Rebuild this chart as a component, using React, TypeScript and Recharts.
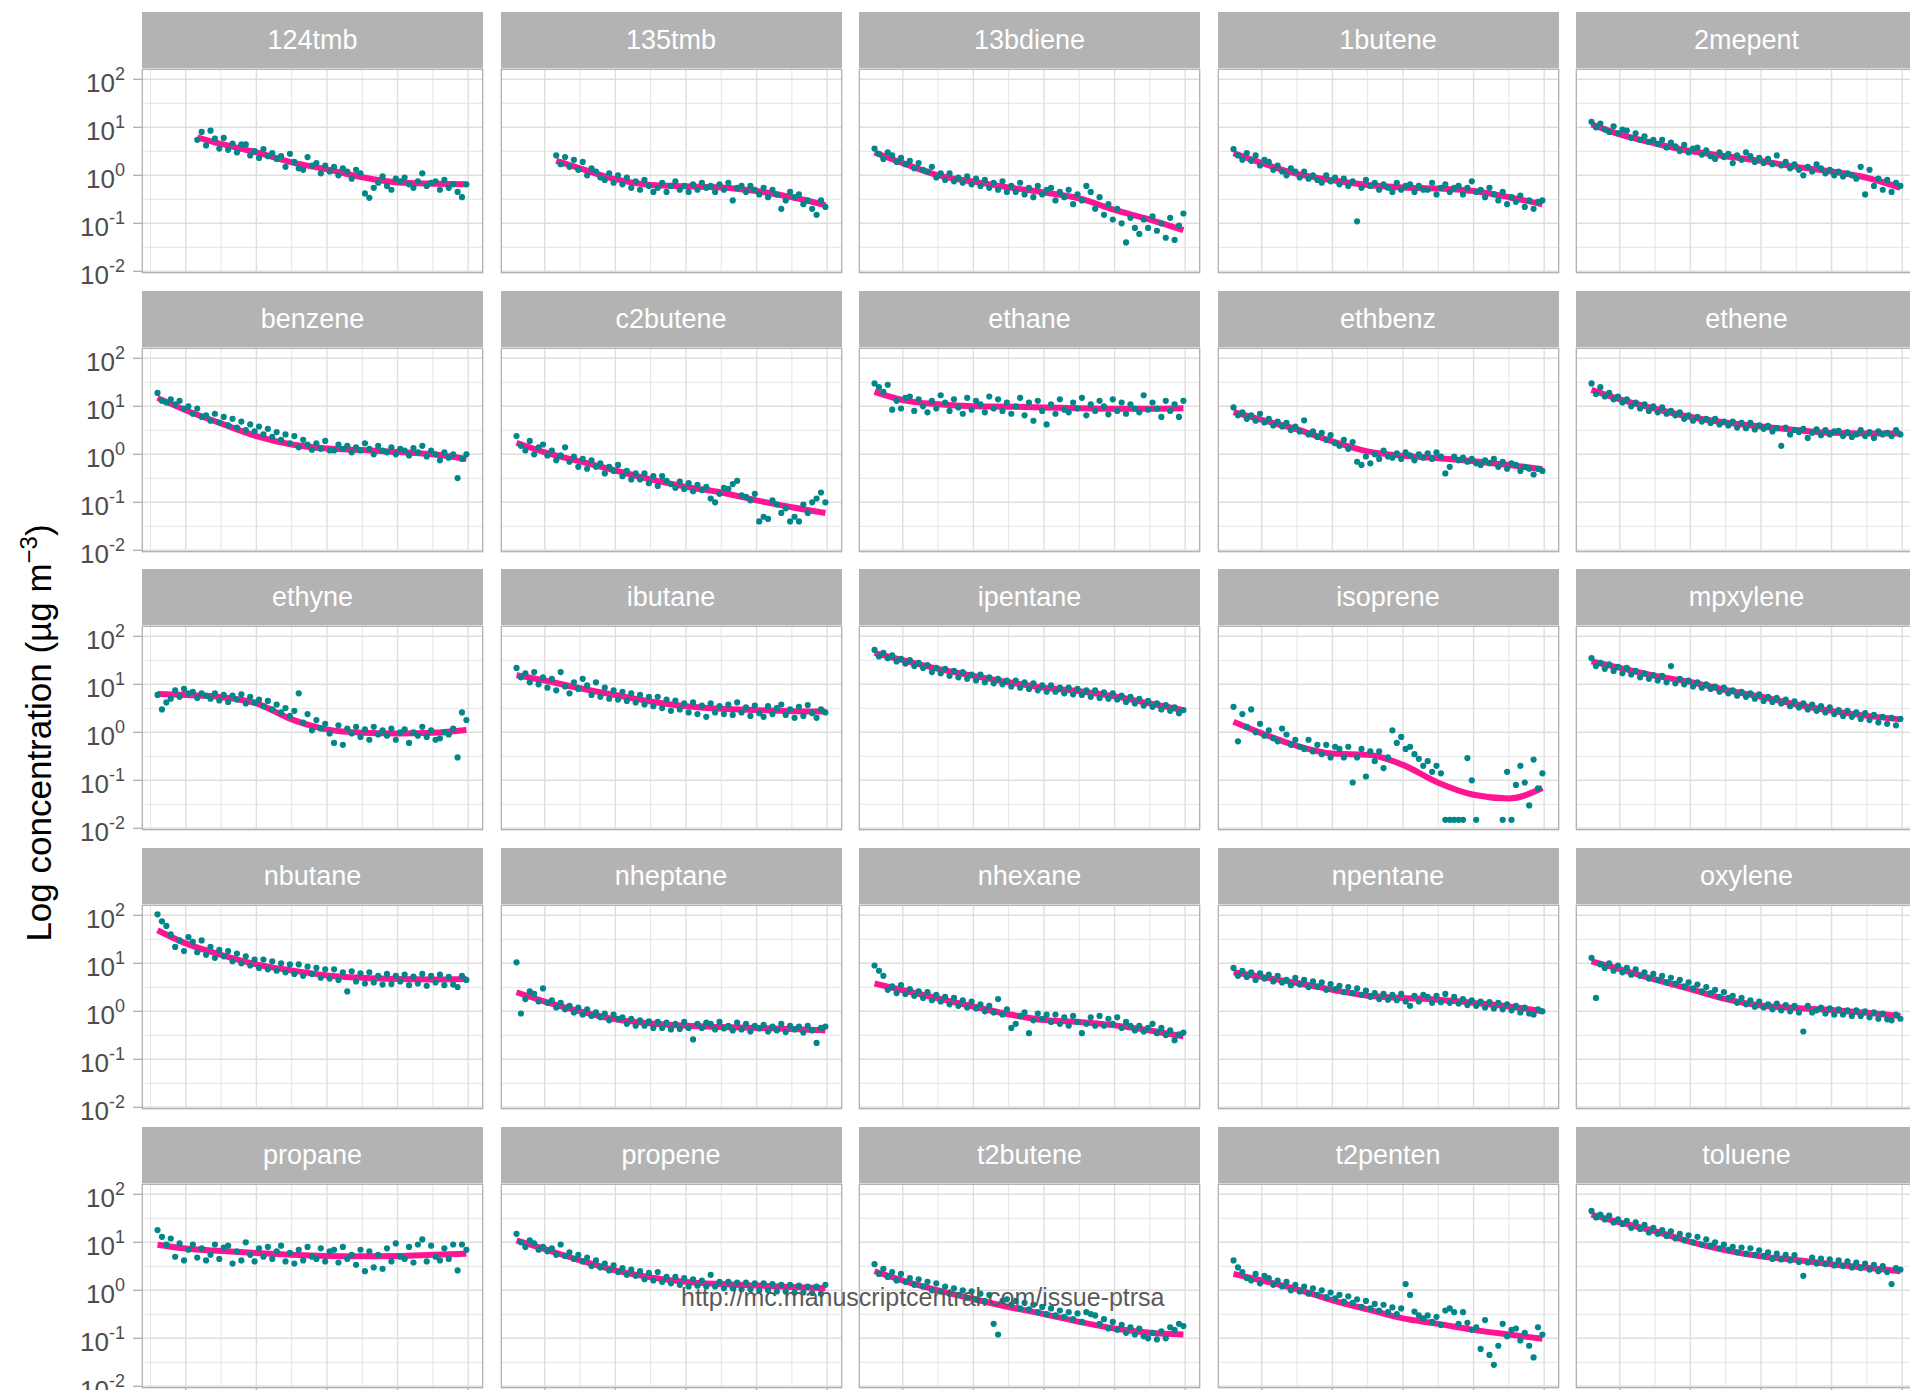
import { CartesianGrid, ComposedChart, Line, Scatter, XAxis, YAxis } from "recharts";

// quarterly sampling times (decimal year)
const QUARTERS = [
  1994.4, 1994.65, 1994.9, 1995.15, 1995.4, 1995.65, 1995.9, 1996.15,
  1996.4, 1996.65, 1996.9, 1997.15, 1997.4, 1997.65, 1997.9, 1998.15,
  1998.4, 1998.65, 1998.9, 1999.15, 1999.4, 1999.65, 1999.9, 2000.15,
  2000.4, 2000.65, 2000.9, 2001.15, 2001.4, 2001.65, 2001.9, 2002.15,
  2002.4, 2002.65, 2002.9, 2003.15, 2003.4, 2003.65, 2003.9, 2004.15,
  2004.4, 2004.65, 2004.9, 2005.15, 2005.4, 2005.65, 2005.9, 2006.15,
  2006.4, 2006.65, 2006.9, 2007.15, 2007.4, 2007.65, 2007.9, 2008.15,
  2008.4, 2008.65, 2008.9, 2009.15, 2009.4, 2009.65, 2009.9, 2010.15,
  2010.4, 2010.65, 2010.9, 2011.15, 2011.4, 2011.65, 2011.9,
];
const FIT_YEARS = [1994.4, 1996, 1998, 2000, 2002, 2004, 2006, 2008, 2010, 2011.9];
const FIT_YEARS_TMB = [1996.65, 1998, 2000, 2002, 2004, 2006, 2008, 2010, 2011.9];

// concentrations, ug m-3 (null = no sample)
const tmb124 = [
  null, null, null, null, null, null, null, null,
  null, 5.5, 8.0, 4.2, 8.5, 5.8, 3.6, 6.0,
  3.4, 4.6, 3.0, 4.4, 4.4, 2.6, 3.2, 2.3,
  3.5, 2.5, 2.9, 2.2, 2.5, 1.5, 2.8, 1.9,
  1.4, 1.3, 2.4, 1.6, 1.8, 1.1, 1.6, 1.2,
  1.5, 1.0, 1.4, 1.2, 0.85, 1.3, 1.1, 0.42,
  0.34, 0.55, 0.7, 0.95, 0.6, 0.5, 0.85, 0.75,
  0.9, 0.65, 0.55, 0.75, 1.1, 0.6, 0.7, 0.75,
  0.5, 0.8, 0.55, 0.65, 0.45, 0.35, 0.65,
];
const tmb124Fit = [6.2, 4.5, 3.0, 1.86, 1.33, 0.91, 0.71, 0.67, 0.65];

const tmb135 = [
  null, null, null, null, null, null, null, null,
  null, 2.6, 1.7, 2.4, 1.5, 2.1, 1.3, 1.9,
  1.0, 1.4, 1.2, 0.9, 0.8, 1.1, 0.7, 1.0,
  0.65, 0.9, 0.55, 0.75, 0.5, 0.8, 0.6, 0.45,
  0.55, 0.7, 0.45, 0.6, 0.75, 0.5, 0.6, 0.45,
  0.65, 0.5, 0.7, 0.55, 0.6, 0.45, 0.65, 0.5,
  0.7, 0.3, 0.55, 0.6, 0.45, 0.6, 0.5, 0.4,
  0.55, 0.35, 0.5, 0.4, 0.2, 0.3, 0.45, 0.35,
  0.4, 0.25, 0.3, 0.2, 0.15, 0.3, 0.22,
];
const tmb135Fit = [2.0, 1.4, 0.83, 0.63, 0.59, 0.56, 0.47, 0.35, 0.24];

const bdiene13 = [
  3.6, 2.8, 2.2, 3.0, 2.6, 1.9, 2.3, 1.7,
  2.0, 1.4, 1.8, 1.3, 1.2, 1.5, 0.9, 1.1,
  0.8, 1.1, 0.75, 0.9, 0.7, 0.95, 0.65, 0.85,
  0.6, 0.8, 0.55, 0.7, 0.5, 0.75, 0.45, 0.6,
  0.45, 0.7, 0.4, 0.55, 0.35, 0.6, 0.4, 0.5,
  0.55, 0.3, 0.45, 0.35, 0.5, 0.25, 0.4, 0.3,
  0.6, 0.45, 0.2, 0.35, 0.15, 0.25, 0.12, 0.2,
  0.1, 0.04, 0.13, 0.08, 0.06, 0.12, 0.08, 0.14,
  0.07, 0.1, 0.05, 0.13, 0.045, 0.09, 0.16,
];
const bdiene13Fit = [3.0, 1.8, 1.0, 0.74, 0.56, 0.44, 0.33, 0.19, 0.12, 0.072];

const butene1 = [
  3.5, 2.6, 2.1, 2.9, 2.0, 2.6, 1.6, 2.1,
  1.9, 1.3, 1.6, 1.2, 1.0, 1.4, 1.2, 0.9,
  1.2, 0.85, 1.0, 0.8, 0.7, 1.0, 0.75, 0.9,
  0.65, 0.85, 0.6, 0.75, 0.11, 0.55, 0.8, 0.6,
  0.7, 0.5, 0.65, 0.55, 0.45, 0.7, 0.5, 0.6,
  0.65, 0.45, 0.6, 0.5, 0.5, 0.7, 0.4, 0.55,
  0.65, 0.45, 0.55, 0.6, 0.4, 0.55, 0.75, 0.45,
  0.5, 0.35, 0.55, 0.4, 0.3, 0.45, 0.25, 0.35,
  0.28, 0.38, 0.22, 0.3, 0.2, 0.28, 0.3,
];
const butene1Fit = [2.9, 1.8, 1.07, 0.79, 0.63, 0.56, 0.53, 0.47, 0.35, 0.25];

const mepent2 = [
  13, 10, 12, 9, 8, 10.5, 7.5, 9,
  8.5, 6, 7.5, 5.5, 6.5, 5, 5.5, 4.5,
  5.5, 3.8, 4.8, 4.0, 3.2, 4.3, 3.0, 3.6,
  3.8, 2.7, 3.3, 2.5, 2.2, 3.0, 2.4, 2.8,
  1.8, 2.6, 2.1, 3.0, 2.5, 1.9, 2.3, 1.8,
  2.2, 1.7, 2.6, 1.6, 1.9, 1.4, 1.7, 1.3,
  1.0, 1.5, 1.2, 1.7, 1.4, 1.1, 1.3, 1.0,
  1.2, 0.95, 1.1, 1.0, 0.85, 1.5, 0.4, 1.3,
  0.6, 0.85, 0.5, 0.8, 0.45, 0.7, 0.6,
];
const mepent2Fit = [11.5, 7.1, 4.6, 3.2, 2.5, 2.0, 1.5, 1.2, 0.89, 0.55];

const benzene = [
  19, 13, 12, 14, 11, 13, 9, 10,
  7, 9, 6, 6.5, 5, 7, 4.6, 6,
  4, 5.5, 3.6, 4.8, 3.2, 4.2, 3.0, 3.8,
  2.6, 3.4, 2.3, 2.9, 2.0, 2.6, 1.7, 2.4,
  1.4, 2.0, 1.6, 1.25, 1.7, 1.3, 1.9, 1.2,
  1.2, 1.6, 1.3, 1.5, 1.1, 1.4, 1.2, 1.7,
  1.3, 1.0, 1.5, 1.2, 1.1, 1.4, 1.0, 1.3,
  1.2, 0.95, 1.35, 1.1, 1.5, 0.9, 1.2, 1.0,
  0.75, 1.1, 0.85, 1.0, 0.32, 0.8, 1.0,
];
const benzeneFit = [15, 8.3, 4.4, 2.4, 1.6, 1.32, 1.23, 1.12, 1.0, 0.8];

const c2butene = [
  2.4, 1.5, 1.2, 1.9, 1.0, 1.4, 1.6, 0.95,
  1.2, 0.75, 0.95, 1.4, 0.7, 0.9, 0.55, 0.8,
  0.5, 0.75, 0.55, 0.65, 0.4, 0.55, 0.45, 0.6,
  0.35, 0.45, 0.3, 0.4, 0.3, 0.4, 0.25, 0.35,
  0.22, 0.35, 0.28, 0.24, 0.2, 0.27, 0.19, 0.25,
  0.17, 0.23, 0.18, 0.21, 0.12, 0.1, 0.15, 0.2,
  0.19, 0.24, 0.28, 0.14, 0.13, 0.11, 0.15, 0.04,
  0.05, 0.045, 0.11, 0.09, 0.06, 0.075, 0.04, 0.05,
  0.04, 0.09, 0.06, 0.1, 0.12, 0.16, 0.1,
];
const c2buteneFit = [1.74, 1.1, 0.71, 0.46, 0.3, 0.21, 0.16, 0.11, 0.079, 0.06];

const ethane = [
  30, 25, 20, 28, 8.5, 13, 9, 15,
  16, 8, 14, 10, 7.5, 13, 9, 17,
  12, 8, 14, 9.5, 7, 15, 8.5, 13,
  11, 7.5, 16, 9, 14, 8, 12, 7,
  10, 15, 6.5, 12, 5, 13, 8, 4.2,
  11, 7, 14, 8.5, 7.5, 12, 9, 15,
  6.5, 11, 8, 13, 10, 6.8, 14, 8,
  12, 7, 11, 9, 7.5, 17, 8.5, 12,
  9, 6, 13, 8, 11, 6, 13,
];
const ethaneFit = [20, 13.5, 11, 10, 9.8, 9.5, 9.1, 8.9, 8.9, 9.1];

const ethbenz = [
  9.5, 6.5, 7.5, 5.5, 6.5, 5, 7, 4.6,
  5.5, 4, 4.8, 3.8, 4.5, 3.2, 3.8, 3.0,
  5.1, 2.6, 3.0, 2.3, 2.8, 2.0, 2.5, 1.7,
  1.5, 2.0, 1.3, 1.8, 0.7, 0.6, 0.9, 0.65,
  1.0, 0.8, 1.2, 0.9, 0.85, 1.05, 0.8, 1.1,
  0.95, 0.75, 1.0, 0.85, 1.05, 0.8, 1.1, 0.9,
  0.4, 0.55, 0.9, 0.75, 0.85, 0.7, 0.8, 0.65,
  0.6, 0.75, 0.65, 0.8, 0.55, 0.7, 0.5, 0.65,
  0.6, 0.45, 0.55, 0.5, 0.38, 0.5, 0.45,
];
const ethbenzFit = [7.6, 5.2, 3.3, 1.86, 1.15, 0.93, 0.83, 0.72, 0.6, 0.49];

const ethene = [
  30, 18, 25, 16, 19, 14, 16, 12,
  14, 10, 12, 9, 11, 8, 10, 7.5,
  9.5, 7, 8, 6.5, 7.5, 5.5, 6.5, 5,
  6, 4.8, 5.5, 4.5, 5.5, 4.2, 4.8, 4.0,
  4.8, 3.6, 4.5, 3.5, 4.5, 3.3, 4.0, 3.4,
  3.9, 3.0, 3.5, 1.5, 3.6, 2.6, 3.2, 2.9,
  3.4, 2.2, 2.8, 3.3, 2.5, 3.2, 2.6, 3.0,
  3.1, 2.4, 2.9, 2.3, 2.6, 3.2, 2.4, 2.9,
  2.2, 3.0, 2.6, 2.8, 2.4, 3.2, 2.6,
];
const etheneFit = [22, 14, 8.9, 6.0, 4.6, 3.8, 3.2, 2.8, 2.7, 2.7];

const ethyne = [
  6.0, 3.0, 4.2, 5.0, 7.5, 5.5, 8.0, 6.5,
  7.0, 5.2, 6.5, 5.8, 5.0, 6.5, 4.6, 6.0,
  4.3, 5.8, 4.8, 6.2, 4.0, 5.5, 4.2, 4.8,
  3.5, 4.5, 3.0, 3.8, 2.6, 3.2, 2.2, 2.8,
  6.5, 1.6, 2.4, 1.1, 1.8, 1.2, 1.5, 0.95,
  0.6, 1.4, 0.55, 1.2, 0.95, 1.3, 0.8, 1.15,
  0.7, 1.3, 0.9, 1.1, 0.85, 1.2, 0.7, 1.0,
  1.15, 0.6, 1.0, 0.85, 1.3, 0.8, 1.1, 0.7,
  0.75, 1.0, 0.9, 1.2, 0.3, 2.6, 1.8,
];
const ethyneFit = [6.3, 6.0, 5.4, 4.0, 1.86, 1.15, 0.98, 0.95, 0.98, 1.12];

const ibutane = [
  22, 14, 17, 11, 18, 10, 14, 8.5,
  13, 7.5, 18, 9, 6.5, 11, 8, 13,
  9.5, 6, 11, 5.5, 8.5, 5, 7.5, 4.8,
  7, 4.5, 6.5, 4.2, 6, 3.8, 5.5, 3.5,
  5.5, 3.2, 4.8, 2.8, 4.6, 3.0, 4.0, 2.6,
  4.2, 2.4, 3.6, 2.1, 4.0, 2.6, 3.5, 2.4,
  3.8, 2.3, 4.2, 2.6, 3.3, 2.2, 3.6, 2.5,
  2.1, 3.5, 2.4, 3.2, 3.8, 2.3, 3.0, 2.0,
  3.4, 2.2, 3.7, 2.5, 2.0, 3.0, 2.6,
];
const ibutaneFit = [15.5, 12, 8.3, 6.0, 4.4, 3.5, 3.1, 2.9, 2.75, 2.7];

const ipentane = [
  52, 38, 45, 35, 40, 30, 34, 27,
  32, 24, 28, 22, 25, 18, 22, 17,
  21, 15, 19, 14, 18, 13, 16, 12,
  16, 11, 14, 10.5, 13, 10, 12, 9,
  12, 8.5, 11, 8, 10.5, 7.5, 9.5, 7,
  9.5, 7, 8.5, 6.5, 8.5, 6.2, 8, 6,
  7.5, 5.5, 7.5, 5.2, 6.8, 5, 6.5, 4.8,
  5.8, 4.3, 5.5, 4.0, 5, 3.6, 4.5, 3.4,
  4.0, 3.0, 3.7, 2.8, 3.3, 2.5, 2.9,
];
const ipentaneFit = [45, 32, 21, 15, 11, 8.5, 7.2, 5.6, 4.0, 2.9];

const isoprene = [
  3.4, 0.65, 2.4, 1.3, 3.0, 1.0, 1.5, 0.85,
  1.1, 0.75, 0.65, 1.2, 0.9, 0.55, 0.7, 0.5,
  0.45, 0.7, 0.4, 0.55, 0.35, 0.55, 0.3, 0.5,
  0.45, 0.3, 0.5, 0.09, 0.3, 0.45, 0.12, 0.4,
  0.25, 0.4, 0.18, 0.3, 1.1, 0.6, 0.8, 0.45,
  0.5, 0.35, 0.28, 0.2, 0.25, 0.15, 0.2, 0.14,
  0.015, 0.015, 0.015, 0.015, 0.015, 0.29, 0.1, 0.015,
  null, null, null, null, null, 0.015, 0.15, 0.015,
  0.08, 0.2, 0.09, 0.03, 0.27, 0.068, 0.14,
];
const isopreneFit = [1.66, 0.95, 0.52, 0.36, 0.34, 0.21, 0.089, 0.05, 0.042, 0.069];

const mpxylene = [
  35, 24, 28, 21, 26, 19, 23, 17,
  22, 16, 19, 14, 17, 13, 15.5, 12,
  15, 11, 24, 10.5, 13, 10, 12, 9,
  11, 8.5, 10, 8, 9, 7, 8.5, 6.5,
  7.5, 5.8, 7, 5.5, 6.5, 5, 6.2, 4.5,
  5.5, 4.3, 5.2, 4, 4.8, 3.5, 4.4, 3.3,
  4, 3, 3.8, 2.8, 3.5, 2.6, 3.3, 2.4,
  2.9, 2.2, 2.8, 2.1, 2.6, 1.9, 2.5, 1.8,
  2.3, 1.6, 2.1, 1.5, 2.0, 1.4, 1.9,
];
const mpxyleneFit = [30, 22, 15, 11.2, 7.6, 5.5, 3.8, 2.8, 2.2, 1.86];

const nbutane = [
  105, 75, 60, 40, 22, 30, 18, 35,
  28, 17, 30, 15, 22, 13, 19, 14,
  18, 11, 16, 10, 14, 9, 12, 8,
  12, 7.5, 11, 7, 10, 6.5, 9.5, 6,
  9.5, 5.5, 8.5, 6, 8, 5, 7.5, 4.8,
  7.5, 4.5, 6.5, 2.6, 6.8, 4.2, 6.2, 3.8,
  6.5, 4.0, 5.5, 3.6, 6.0, 3.7, 5.5, 4.2,
  5.8, 3.5, 5.3, 3.8, 6.0, 3.4, 5.5, 4.0,
  5.8, 3.5, 5.2, 3.6, 3.2, 5.5, 4.5,
];
const nbutaneFit = [49, 26, 15, 9.5, 7.1, 5.6, 5.0, 4.7, 4.6, 4.7];

const nheptane = [
  10.5, 0.9, 1.8, 2.6, 2.3, 1.6, 3.0, 1.5,
  1.7, 1.2, 1.5, 1.1, 1.3, 0.95, 1.2, 0.85,
  1.1, 0.8, 0.95, 0.75, 0.9, 0.65, 0.85, 0.7,
  0.75, 0.55, 0.7, 0.5, 0.65, 0.5, 0.62, 0.45,
  0.6, 0.45, 0.58, 0.42, 0.55, 0.43, 0.6, 0.45,
  0.26, 0.55, 0.45, 0.58, 0.55, 0.42, 0.6, 0.44,
  0.5, 0.4, 0.58, 0.42, 0.55, 0.38, 0.5, 0.44,
  0.52, 0.38, 0.48, 0.4, 0.55, 0.37, 0.5, 0.42,
  0.48, 0.36, 0.5, 0.4, 0.22, 0.45, 0.48,
];
const nheptaneFit = [2.5, 1.6, 1.0, 0.68, 0.56, 0.5, 0.47, 0.45, 0.43, 0.4];

const nhexane = [
  9.0, 7.0, 5.5, 2.8, 3.3, 2.4, 3.5, 2.3,
  2.9, 2.1, 2.6, 1.9, 2.5, 1.7, 2.2, 1.6,
  2.0, 1.4, 1.9, 1.3, 1.7, 1.2, 1.6, 1.15,
  1.4, 1.0, 1.3, 0.95, 1.8, 0.85, 1.1, 0.45,
  0.55, 0.8, 0.95, 0.35, 0.65, 0.9, 0.7, 0.85,
  0.6, 0.85, 0.55, 0.75, 0.5, 0.8, 0.6, 0.35,
  0.55, 0.75, 0.5, 0.8, 0.5, 0.7, 0.55, 0.75,
  0.45, 0.6, 0.5, 0.4, 0.5, 0.38, 0.45, 0.55,
  0.35, 0.45, 0.32, 0.4, 0.25, 0.33, 0.36,
];
const nhexaneFit = [3.8, 2.75, 1.86, 1.26, 0.87, 0.66, 0.6, 0.51, 0.4, 0.3];

const npentane = [
  8.0, 5.5, 7.0, 5.2, 6.5, 4.5, 6.2, 4.8,
  5.8, 4.2, 5.5, 4.0, 4.5, 3.5, 5.0, 3.6,
  4.5, 3.2, 4.2, 3.3, 4.0, 2.8, 3.7, 2.9,
  3.4, 2.5, 3.2, 2.4, 3.0, 2.2, 2.7, 2.0,
  2.4, 1.8, 2.3, 1.75, 2.2, 1.7, 2.3, 1.6,
  1.3, 2.1, 1.6, 2.2, 2.0, 1.5, 2.1, 1.55,
  2.3, 1.5, 2.0, 1.45, 1.8, 1.35, 1.7, 1.3,
  1.6, 1.2, 1.55, 1.15, 1.5, 1.1, 1.4, 1.05,
  1.3, 0.95, 1.2, 0.9, 0.85, 1.1, 1.0,
];
const npentaneFit = [6.5, 5.2, 3.9, 2.8, 2.1, 1.9, 1.74, 1.5, 1.26, 1.0];

const oxylene = [
  13, 1.9, 9.5, 8, 10, 7, 9, 6.5,
  8, 5.8, 7.5, 5.5, 6.5, 4.8, 6.0, 4.5,
  5.5, 4.0, 5.0, 3.8, 4.5, 3.3, 4.0, 3.0,
  3.6, 2.6, 3.2, 2.4, 2.8, 2.0, 2.5, 1.9,
  2.1, 1.5, 1.9, 1.4, 1.7, 1.25, 1.6, 1.2,
  1.4, 1.1, 1.45, 1.05, 1.35, 1.0, 1.3, 0.95,
  0.38, 1.3, 0.95, 1.05, 1.2, 0.9, 1.15, 0.85,
  1.1, 0.85, 1.05, 0.8, 1.05, 0.8, 1.0, 0.75,
  0.95, 0.7, 0.9, 0.68, 0.65, 0.85, 0.7,
];
const oxyleneFit = [11, 7.6, 4.6, 2.9, 1.8, 1.32, 1.17, 1.07, 0.93, 0.8];

const propane = [
  18, 13, 9, 12, 5.0, 9.5, 4.2, 7.0,
  9.0, 4.8, 7.5, 4.2, 5.5, 9.0, 4.5, 7.8,
  8.5, 3.6, 6.5, 4.2, 10, 5.5, 4.0, 7.5,
  5.0, 8.0, 4.5, 6.5, 8.5, 4.0, 6.0, 3.6,
  7.0, 4.2, 8.0, 5.0, 4.5, 7.5, 4.0, 6.5,
  7.0, 3.8, 8.0, 4.5, 5.5, 3.4, 7.0, 2.5,
  6.5, 3.0, 5.5, 2.8, 7.5, 4.0, 9.5, 5.0,
  4.5, 8.0, 3.8, 9.0, 11.5, 4.0, 8.5, 5.0,
  4.2, 7.5, 4.5, 9.0, 2.6, 9.0, 7.0,
];
const propaneFit = [8.9, 7.4, 6.6, 6.0, 5.5, 5.2, 5.1, 5.2, 5.5, 5.8];

const propene = [
  15, 10, 8, 11, 9.5, 7, 8, 6.5,
  7.5, 5.5, 9, 5.2, 6.2, 4.5, 5.5, 4.0,
  4.8, 3.2, 4.2, 3.0, 3.6, 2.6, 3.3, 2.4,
  2.9, 2.1, 2.7, 2.0, 2.5, 1.7, 2.3, 1.6,
  2.4, 1.5, 1.9, 1.4, 1.9, 1.3, 1.8, 1.2,
  1.7, 1.25, 1.6, 1.2, 2.1, 1.2, 1.5, 1.1,
  1.5, 1.1, 1.45, 1.05, 1.45, 1.05, 1.4, 1.0,
  1.4, 1.0, 1.35, 0.95, 1.3, 0.95, 1.3, 0.9,
  1.25, 0.9, 1.2, 0.88, 1.2, 0.85, 1.3,
];
const propeneFit = [11, 7.2, 4.2, 2.6, 1.86, 1.5, 1.35, 1.26, 1.17, 1.1];

const t2butene = [
  3.5, 2.2, 2.8, 1.9, 2.4, 1.6, 2.2, 1.5,
  1.8, 1.3, 1.7, 1.2, 1.5, 1.0, 1.4, 0.95,
  1.2, 0.85, 1.1, 0.8, 1.0, 0.7, 0.95, 0.65,
  0.85, 0.6, 0.8, 0.2, 0.12, 0.6, 0.65, 0.5,
  0.6, 0.42, 0.55, 0.4, 0.5, 0.35, 0.45, 0.32,
  0.42, 0.3, 0.38, 0.28, 0.35, 0.25, 0.33, 0.22,
  0.35, 0.32, 0.3, 0.2, 0.25, 0.16, 0.22, 0.15,
  0.19, 0.13, 0.17, 0.12, 0.16, 0.11, 0.1, 0.13,
  0.095, 0.14, 0.1, 0.17, 0.15, 0.2, 0.18,
];
const t2buteneFit = [2.5, 1.6, 1.0, 0.66, 0.45, 0.32, 0.22, 0.16, 0.13, 0.12];

const t2penten = [
  4.2, 3.0, 2.4, 1.8, 1.6, 2.2, 1.4, 2.0,
  1.8, 1.3, 1.6, 1.2, 1.5, 1.0, 1.3, 0.95,
  1.2, 0.85, 1.1, 0.8, 1.0, 0.72, 0.9, 0.68,
  0.8, 0.58, 0.75, 0.55, 0.65, 0.45, 0.6, 0.42,
  0.52, 0.38, 0.5, 0.35, 0.44, 0.32, 0.42, 1.35,
  0.8, 0.36, 0.3, 0.26, 0.3, 0.22, 0.28, 0.19,
  0.38, 0.42, 0.35, 0.2, 0.35, 0.21, 0.15, 0.17,
  0.06, 0.24, 0.045, 0.028, 0.07, 0.2, 0.11, 0.15,
  0.16, 0.09, 0.13, 0.07, 0.04, 0.17, 0.12,
];
const t2pentenFit = [2.2, 1.6, 1.05, 0.62, 0.4, 0.26, 0.2, 0.15, 0.12, 0.098];

const toluene = [
  45, 33, 38, 30, 36, 26, 30, 24,
  28, 20, 26, 19, 23, 16, 20, 15,
  18, 13.5, 17, 12, 15, 11, 14, 10,
  13, 9, 11.5, 8.5, 10, 7.5, 9, 7,
  8, 6.2, 7.8, 5.8, 7.5, 5.5, 6.8, 5.2,
  6.2, 4.5, 5.8, 4.4, 5.5, 4.2, 5.4, 3.9,
  2.0, 3.8, 4.8, 3.6, 4.6, 3.5, 4.4, 3.3,
  4.2, 3.2, 4.0, 3.0, 3.8, 2.9, 3.6, 2.7,
  3.4, 2.5, 3.2, 2.4, 1.35, 2.9, 2.7,
];
const tolueneFit = [38, 26, 17, 10.2, 6.8, 5.1, 4.3, 3.5, 2.95, 2.5];

const PANELS = [
  { name: "124tmb", points: tmb124, fit: tmb124Fit, fitYears: FIT_YEARS_TMB },
  { name: "135tmb", points: tmb135, fit: tmb135Fit, fitYears: FIT_YEARS_TMB },
  { name: "13bdiene", points: bdiene13, fit: bdiene13Fit, fitYears: FIT_YEARS },
  { name: "1butene", points: butene1, fit: butene1Fit, fitYears: FIT_YEARS },
  { name: "2mepent", points: mepent2, fit: mepent2Fit, fitYears: FIT_YEARS },
  { name: "benzene", points: benzene, fit: benzeneFit, fitYears: FIT_YEARS },
  { name: "c2butene", points: c2butene, fit: c2buteneFit, fitYears: FIT_YEARS },
  { name: "ethane", points: ethane, fit: ethaneFit, fitYears: FIT_YEARS },
  { name: "ethbenz", points: ethbenz, fit: ethbenzFit, fitYears: FIT_YEARS },
  { name: "ethene", points: ethene, fit: etheneFit, fitYears: FIT_YEARS },
  { name: "ethyne", points: ethyne, fit: ethyneFit, fitYears: FIT_YEARS },
  { name: "ibutane", points: ibutane, fit: ibutaneFit, fitYears: FIT_YEARS },
  { name: "ipentane", points: ipentane, fit: ipentaneFit, fitYears: FIT_YEARS },
  { name: "isoprene", points: isoprene, fit: isopreneFit, fitYears: FIT_YEARS },
  { name: "mpxylene", points: mpxylene, fit: mpxyleneFit, fitYears: FIT_YEARS },
  { name: "nbutane", points: nbutane, fit: nbutaneFit, fitYears: FIT_YEARS },
  { name: "nheptane", points: nheptane, fit: nheptaneFit, fitYears: FIT_YEARS },
  { name: "nhexane", points: nhexane, fit: nhexaneFit, fitYears: FIT_YEARS },
  { name: "npentane", points: npentane, fit: npentaneFit, fitYears: FIT_YEARS },
  { name: "oxylene", points: oxylene, fit: oxyleneFit, fitYears: FIT_YEARS },
  { name: "propane", points: propane, fit: propaneFit, fitYears: FIT_YEARS },
  { name: "propene", points: propene, fit: propeneFit, fitYears: FIT_YEARS },
  { name: "t2butene", points: t2butene, fit: t2buteneFit, fitYears: FIT_YEARS },
  { name: "t2penten", points: t2penten, fit: t2pentenFit, fitYears: FIT_YEARS },
  { name: "toluene", points: toluene, fit: tolueneFit, fitYears: FIT_YEARS },
];

const Y_MAJOR = [-2, -1, 0, 1, 2];
const Y_MINOR = [-1.5, -0.5, 0.5, 1.5];
const X_MAJOR = [1996, 2000, 2004, 2008, 2012];
const X_MINOR = [1994, 1998, 2002, 2006, 2010];
const Y_DOMAIN = [-2.035, 2.215];
const X_DOMAIN = [1993.52, 2012.84];

const FONT = '"Liberation Sans", Arial, Helvetica, sans-serif';
const TEAL = "#00868B";
const PINK = "#FF1493";
const GREY = "#B3B3B3";

const COLS = 5;
const ROWS = 5;
const PANEL_LEFT = 142;
const PANEL_TOP = 12;
const COL_STEP = 358.5;
const ROW_STEP = 278.7;
const PANEL_W = 341;
const STRIP_H = 57;
const PLOT_H = 204;
const Y_AXIS_W = 70;
const X_AXIS_H = 30;

function toPoints(values: (number | null)[], years: number[]) {
  const out: { x: number; y: number }[] = [];
  values.forEach((v, i) => {
    if (v != null) out.push({ x: years[i], y: Math.log10(v) });
  });
  return out;
}

function PowerTick(props: any) {
  const { x, y, payload } = props;
  return (
    <text x={x} y={y + 13} textAnchor="end" fill="#4D4D4D" fontSize={26} fontFamily={FONT}>
      10
      <tspan dy={-12} fontSize={18}>
        {String(payload.value)}
      </tspan>
    </text>
  );
}

// year labels of the bottom axis fall below the picture, only the tick marks show
function NoLabel() {
  return <g />;
}

function Dot(props: any) {
  return <circle cx={props.cx} cy={props.cy} r={3.1} fill={TEAL} />;
}

function Panel({ panel, row, col }: { panel: (typeof PANELS)[number]; row: number; col: number }) {
  const left = PANEL_LEFT + col * COL_STEP;
  const top = PANEL_TOP + row * ROW_STEP;
  const isLeft = col === 0;
  const isBottom = row === ROWS - 1;
  const yw = isLeft ? Y_AXIS_W : 0;
  const xh = isBottom ? X_AXIS_H : 0;
  const pts = toPoints(panel.points, QUARTERS);
  const fit = toPoints(panel.fit, panel.fitYears);

  return (
    <>
      <div
        style={{
          position: "absolute",
          left,
          top,
          width: PANEL_W,
          height: STRIP_H,
          background: GREY,
          color: "#fff",
          fontFamily: FONT,
          fontSize: 27,
          display: "flex",
          alignItems: "center",
          justifyContent: "center",
        }}
      >
        {panel.name}
      </div>
      <div style={{ position: "absolute", left: left - yw, top: top + STRIP_H }}>
        <ComposedChart width={PANEL_W + yw} height={PLOT_H + xh} margin={{ top: 0, right: 0, bottom: 0, left: 0 }}>
          <XAxis xAxisId="minor" type="number" dataKey="x" domain={X_DOMAIN} ticks={X_MINOR} hide allowDataOverflow />
          <YAxis yAxisId="minor" type="number" domain={Y_DOMAIN} ticks={Y_MINOR} hide allowDataOverflow />
          <CartesianGrid xAxisId="minor" yAxisId="minor" stroke="#E4E4E4" strokeWidth={1} />
          <CartesianGrid stroke="#DEDEDE" strokeWidth={1.4} />
          <XAxis
            type="number"
            dataKey="x"
            domain={X_DOMAIN}
            ticks={X_MAJOR}
            interval={0}
            allowDataOverflow
            hide={!isBottom}
            height={xh}
            axisLine={false}
            tickSize={8}
            tickLine={{ stroke: GREY, strokeWidth: 1.4 }}
            tick={<NoLabel />}
          />
          <YAxis
            type="number"
            dataKey="y"
            domain={Y_DOMAIN}
            ticks={Y_MAJOR}
            interval={0}
            allowDataOverflow
            hide={!isLeft}
            width={yw}
            axisLine={false}
            tickSize={9}
            tickMargin={8}
            tickLine={{ stroke: GREY, strokeWidth: 1.4 }}
            tick={<PowerTick />}
          />
          <Scatter data={pts} fill={TEAL} shape={<Dot />} isAnimationActive={false} />
          <Line
            data={fit}
            dataKey="y"
            type="monotone"
            stroke={PINK}
            strokeWidth={6}
            dot={false}
            activeDot={false}
            isAnimationActive={false}
          />
        </ComposedChart>
      </div>
      <div
        style={{
          position: "absolute",
          left,
          top: top + STRIP_H,
          width: PANEL_W,
          height: PLOT_H,
          border: `1.5px solid ${GREY}`,
          boxSizing: "border-box",
          pointerEvents: "none",
        }}
      />
    </>
  );
}

export default function App() {
  return (
    <div
      style={{
        position: "absolute",
        left: 0,
        top: 0,
        width: 1910,
        height: 1390,
        overflow: "hidden",
        background: "#fff",
      }}
    >
      <style>{".recharts-surface{overflow:visible}.recharts-wrapper{overflow:visible}"}</style>
      {PANELS.map((p, i) => (
        <Panel key={p.name} panel={p} row={Math.floor(i / COLS)} col={i % COLS} />
      ))}
      <svg width={90} height={1390} style={{ position: "absolute", left: 0, top: 0 }}>
        <text
          transform="rotate(-90)"
          x={-733}
          y={51}
          textAnchor="middle"
          fontFamily={FONT}
          fontSize={35}
          fill="#000"
        >
          Log concentration (µg m
          <tspan dy={-14} fontSize={24}>
            −3
          </tspan>
          <tspan dy={14}>)</tspan>
        </text>
      </svg>
      <div
        style={{
          position: "absolute",
          left: 681,
          top: 1283,
          fontFamily: FONT,
          fontSize: 25,
          color: "#5A5A5A",
          whiteSpace: "nowrap",
          lineHeight: "28px",
        }}
      >
        http://mc.manuscriptcentral.com/issue-ptrsa
      </div>
    </div>
  );
}
